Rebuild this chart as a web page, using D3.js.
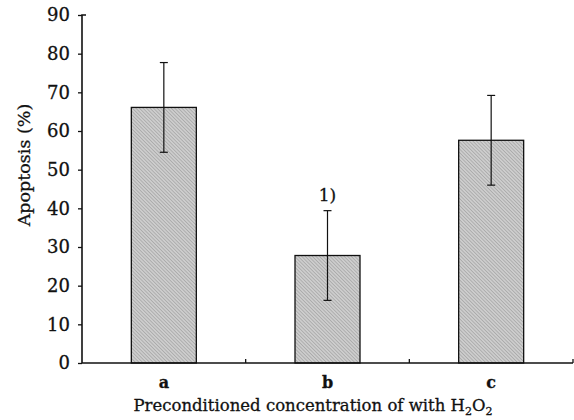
<!DOCTYPE html>
<html>
<head>
<meta charset="utf-8">
<script src="https://cdn.jsdelivr.net/npm/d3@7"></script>
<style>
  body { margin: 0; background: #fff; }
  text { font-family: "DejaVu Serif", serif; fill: #111; stroke: #111; stroke-width: 0.3px; }
</style>
</head>
<body>
<svg id="chart" width="574" height="420"></svg>
<script>
const groups = ['a', 'b', 'c']
const apoptosis = [66.1, 27.8, 57.6]
const errors = [11.6, 11.6, 11.6]
const marks = ['', '1)', '']
const yTicks = [0, 10, 20, 30, 40, 50, 60, 70, 80, 90]

const svg = d3.select('#chart')
const margin = { top: 15, right: 1, bottom: 57, left: 82 }
const width = 574 - margin.left - margin.right
const height = 420 - margin.top - margin.bottom

const defs = svg.append('defs')
const pat = defs.append('pattern')
  .attr('id', 'grain')
  .attr('patternUnits', 'userSpaceOnUse')
  .attr('width', 2.5).attr('height', 2.5)
  .attr('patternTransform', 'rotate(45)')
pat.append('rect').attr('width', 2.5).attr('height', 2.5).attr('fill', '#cdcdcd')
pat.append('rect').attr('width', 2.5).attr('height', 0.8).attr('fill', '#a9a9a9')

const x = d3.scaleBand()
  .domain(groups)
  .range([margin.left, margin.left + width])
  .paddingInner(0)
  .paddingOuter(0)

const y = d3.scaleLinear()
  .domain([0, 90])
  .range([margin.top + height, margin.top])

const barW = 65
const data = groups.map((g, i) => ({ g, v: apoptosis[i], e: errors[i], m: marks[i] }))

// bars
svg.append('g')
  .selectAll('rect')
  .data(data)
  .enter()
  .append('rect')
  .attr('x', d => x(d.g) + x.bandwidth() / 2 - barW / 2)
  .attr('y', d => y(d.v))
  .attr('width', barW)
  .attr('height', d => y(0) - y(d.v))
  .attr('fill', 'url(#grain)')
  .attr('stroke', '#111')
  .attr('stroke-width', 1.3)

// error bars
const err = svg.append('g').attr('stroke', '#111').attr('stroke-width', 1.2)
data.forEach(d => {
  const cx = x(d.g) + x.bandwidth() / 2
  err.append('line').attr('x1', cx).attr('x2', cx).attr('y1', y(d.v + d.e)).attr('y2', y(d.v - d.e))
  err.append('line').attr('x1', cx - 4).attr('x2', cx + 4).attr('y1', y(d.v + d.e)).attr('y2', y(d.v + d.e))
  err.append('line').attr('x1', cx - 4).attr('x2', cx + 4).attr('y1', y(d.v - d.e)).attr('y2', y(d.v - d.e))
})

// significance mark
svg.append('g')
  .selectAll('text')
  .data(data.filter(d => d.m))
  .enter()
  .append('text')
  .attr('x', d => x(d.g) + x.bandwidth() / 2)
  .attr('y', d => y(d.v + d.e) - 10)
  .attr('text-anchor', 'middle')
  .attr('font-size', 17)
  .text(d => d.m)

// y axis
const leftAxis = d3.axisLeft(y).tickValues(yTicks).tickSize(4).tickPadding(8)
const gy = svg.append('g')
  .attr('transform', `translate(${margin.left}, 0)`)
  .call(leftAxis)
gy.attr('font-family', null)
gy.select('.domain').attr('stroke', '#111').attr('stroke-width', 1.6).attr('d', `M0,${y(0)}V${y(90)}H4`)
gy.selectAll('.tick line').attr('stroke', '#111').attr('stroke-width', 1.3)
gy.selectAll('.tick text').attr('font-size', 18).attr('fill', '#111')

// x axis
const bottomAxis = d3.axisBottom(x).tickSize(0).tickPadding(14)
const gx = svg.append('g')
  .attr('transform', `translate(0, ${y(0)})`)
  .call(bottomAxis)
gx.attr('font-family', null)
gx.select('.domain').attr('stroke', '#111').attr('stroke-width', 1.6).attr('d', `M${margin.left},0H${margin.left + width}`)
gx.selectAll('.tick text').attr('font-size', 16).attr('font-weight', 'bold').attr('fill', '#111')

// separators between groups on x axis
gx.selectAll('.sep')
  .data(groups)
  .enter()
  .append('line')
  .attr('x1', d => x(d) + x.bandwidth())
  .attr('x2', d => x(d) + x.bandwidth())
  .attr('y1', 0).attr('y2', -4)
  .attr('stroke', '#111').attr('stroke-width', 1.3)

// axis titles
svg.append('text')
  .attr('transform', 'translate(30, 165) rotate(-90)')
  .attr('text-anchor', 'middle')
  .attr('font-size', 17.5)
  .text('Apoptosis (%)')

const xt = svg.append('text')
  .attr('x', 313)
  .attr('y', 411)
  .attr('text-anchor', 'middle')
  .attr('font-size', 16.5)
xt.append('tspan').text('Preconditioned concentration of with H')
xt.append('tspan').attr('font-size', 11).attr('dy', 4).text('2')
xt.append('tspan').attr('dy', -4).text('O')
xt.append('tspan').attr('font-size', 11).attr('dy', 4).text('2')
</script>
</body>
</html>
